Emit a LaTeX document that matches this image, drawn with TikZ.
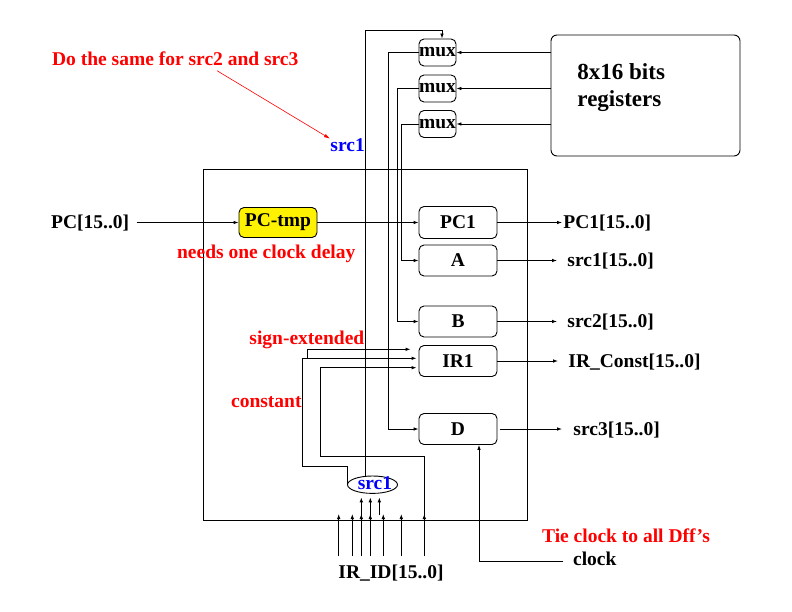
\documentclass[tikz,border=0pt]{standalone}
\usepackage{fontspec}
\setmainfont{Liberation Serif}
\usetikzlibrary{arrows.meta,shapes.geometric}
\begin{document}
\begin{tikzpicture}[x=1pt,y=-1pt,line width=0.9pt,
  every node/.style={inner sep=0pt},
  txt/.style={font=\fontsize{19.5}{22}\selectfont\bfseries},
  rtxt/.style={txt,text=red},
  btxt/.style={txt,text=blue},
  bigtxt/.style={font=\fontsize{23}{27}\selectfont\bfseries},
  reg/.style={draw,rounded corners=5pt,minimum width=78pt,minimum height=31pt,txt},
  muxbox/.style={draw,rounded corners=5pt,minimum width=37pt,minimum height=27pt,txt},
  arr/.style={-{Latex[length=5pt,width=3.6pt]}},
  note/.style={red,line width=0.6pt,-{Latex[length=6pt,width=3.6pt]}}
]
\useasboundingbox (0,0) rectangle (792,612);
% blocks
\node[draw,minimum width=324pt,minimum height=351pt] (outer) at (365,344.5) {};
\node[draw,rounded corners=6pt,minimum width=189pt,minimum height=121pt] (regs) at (645.5,95.5) {};
\node[bigtxt,anchor=base west] (regt1) at (577,80) {8x16 bits};
\node[bigtxt,anchor=base west] (regt2) at (577,107) {registers};
\node[muxbox] (mux1) at (437.5,52.5) {mux};
\node[muxbox] (mux2) at (437.5,88.5) {mux};
\node[muxbox] (mux3) at (437.5,124) {mux};
\node[reg,fill=yellow,minimum height=30pt] (pctmp) at (278,222.5) {PC-tmp};
\node[reg,minimum height=32pt] (pc1) at (458,222.5) {PC1};
\node[reg] (ra) at (458,260.5) {A};
\node[reg] (rb) at (458,321.5) {B};
\node[reg] (ir1) at (458,361) {IR1};
\node[reg] (dd) at (458,429) {D};
\node[draw,ellipse,minimum width=50pt,minimum height=17.4pt] (ell) at (372.5,484.7) {};
\node[btxt,anchor=base west] (ellt) at (357.3,489) {src1};
% labels
\node[btxt,anchor=base west] (src1top) at (330,152) {src1};
\node[rtxt,anchor=base west] (dosame) at (51.7,65.7) {Do the same for src2 and src3};
\node[txt,anchor=base west] (pcin) at (50.7,228.5) {PC[15..0]};
\node[rtxt,anchor=base west] (needs) at (176.7,259) {needs one clock delay};
\node[rtxt,anchor=base west] (signext) at (249,344) {sign-extended};
\node[rtxt,anchor=base west] (const) at (230.7,407) {constant};
\node[txt,anchor=base west] (opc1) at (563,228.8) {PC1[15..0]};
\node[txt,anchor=base west] (osrc1) at (567,266.8) {src1[15..0]};
\node[txt,anchor=base west] (osrc2) at (567,327.8) {src2[15..0]};
\node[txt,anchor=base west] (oirc) at (568,367.3) {IR\_Const[15..0]};
\node[txt,anchor=base west] (osrc3) at (573,435.3) {src3[15..0]};
\node[rtxt,anchor=base west] (tie) at (541.7,542.7) {Tie clock to all Dff’s};
\node[txt,anchor=base west] (clk) at (572.7,565) {clock};
\node[txt,anchor=base west] (irid) at (338,578) {IR\_ID[15..0]};
% register file to muxes
\draw[arr] (regs.west |- mux1) -- (mux1.east);
\draw[arr] (regs.west |- mux2) -- (mux2.east);
\draw[arr] (regs.west |- mux3) -- (mux3.east);
% select line
\coordinate (seltop) at (442,30.7);
\draw[arr] ([xshift=-6.8pt]ell.north) |- (seltop) -- (seltop |- mux1.north);
% mux outputs
\coordinate (v1) at (388.3,52.5);
\coordinate (v2) at (397.3,88.5);
\coordinate (v3) at (401.7,124);
\draw[arr] (mux1.west) -- (v1) |- (dd.west);
\draw[arr] (mux2.west) -- (v2) |- (rb.west);
\draw[arr] (mux3.west) -- (v3) |- (ra.west);
% PC path
\draw[arr,shorten <=7pt] (pcin.east |- pctmp) -- (pctmp.west);
\draw[arr] (pctmp.east) -- (pc1.west);
% outputs
\draw[arr,shorten >=1pt] (pc1.east) -- (pc1.east -| opc1.west);
\draw[arr,shorten >=10pt] (ra.east) -- (ra.east -| osrc1.west);
\draw[arr,shorten >=10pt] (rb.east) -- (rb.east -| osrc2.west);
\draw[arr,shorten >=10pt] (ir1.east) -- (ir1.east -| oirc.west);
\draw[arr,shorten >=11pt,shorten <=3pt] (dd.east) -- (dd.east -| osrc3.west);
% IR1 inputs
\coordinate (se) at (307.3,349.3);
\coordinate (sej) at (307.3,358.3);
\draw[arr,shorten >=8pt] (se) -- (se -| ir1.west);
\draw (se) -- (sej);
\coordinate (k1) at (302.3,466);
\coordinate (k2) at (302.3,358.3);
\draw[arr,shorten >=2pt] (ell.west) |- (k1) -- (k2) -- (k2 -| ir1.west);
\coordinate (b7) at (424.3,556);
\coordinate (t7) at (424.3,514);
\coordinate (q1) at (320.7,456.7);
\coordinate (q2) at (320.7,367.7);
\draw[arr,shorten >=2pt] (b7) |- (q1) -- (q2) -- (q2 -| ir1.west);
\draw[arr] (b7) -- (t7);
% IR_ID lines
\foreach \n/\xx in {1/338.7,2/352.3,3/361.3,4/370.3,5/383.3,6/401.3}{
  \coordinate (b\n) at (\xx,556);
  \coordinate (t\n) at (\xx,514);
  \draw[arr] (b\n) -- (t\n);
}
\draw[arr,shorten >=3.5pt] (b3 |- outer.south) -- (b3 |- ell.south);
\draw[arr,shorten >=3.5pt] (b4 |- outer.south) -- (b4 |- ell.south);
\coordinate (s1) at (379.3,515);
\draw[arr,shorten >=3.5pt] (s1) -- (s1 |- ell.south);
% clock
\coordinate (ck) at (563,561);
\draw[arr] (ck) -| ([xshift=21pt]dd.south);
% note arrow
\coordinate (noteA) at (217,70.7);
\draw[note] (noteA) -- (src1top.north west);
\end{tikzpicture}
\end{document}
